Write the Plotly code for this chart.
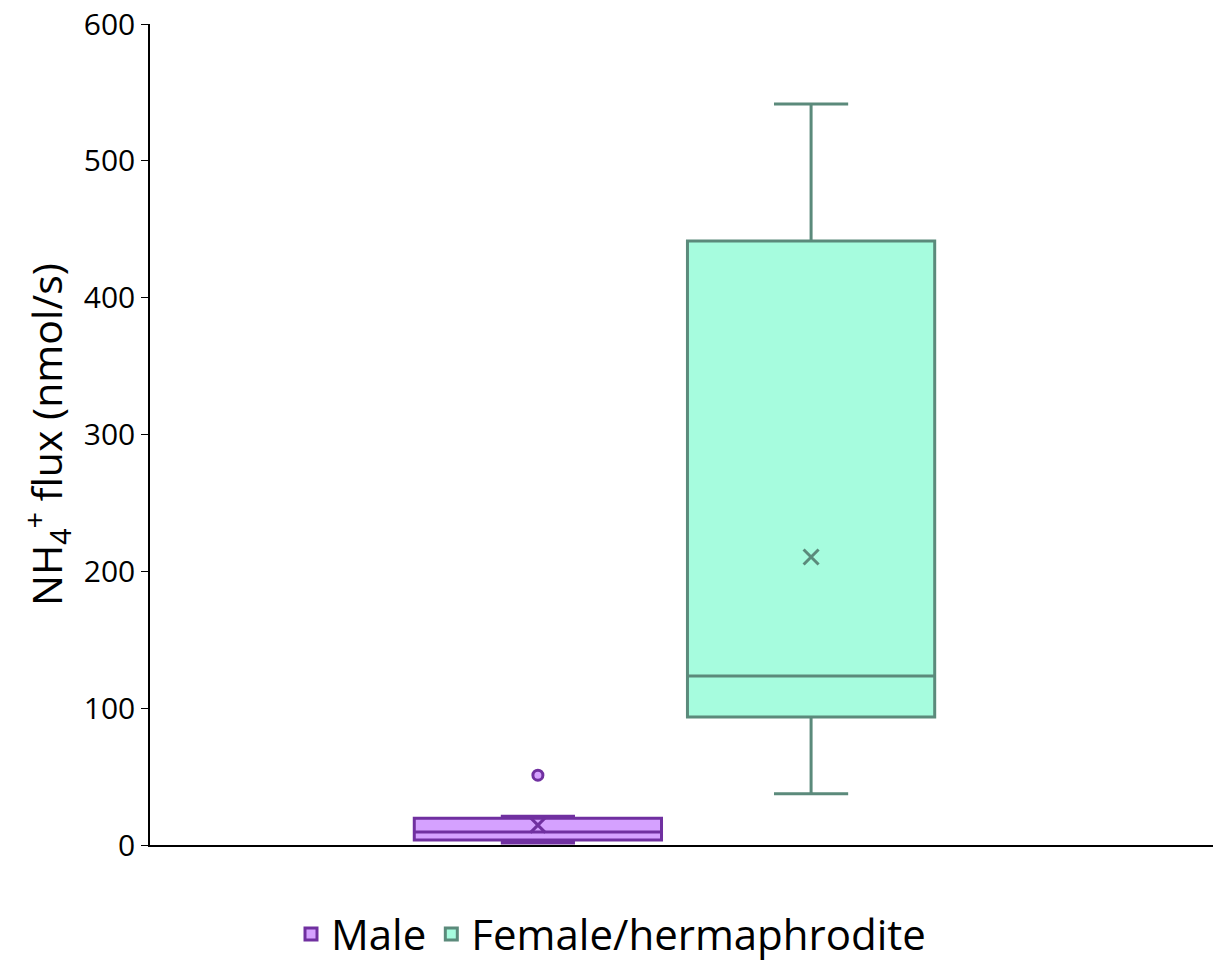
import plotly.graph_objects as go

category = ["All"]
groups = ["Male", "Female/hermaphrodite"]
q1 = [3.7, 93.5]
median = [9.5, 123.5]
q3 = [19.5, 441.5]
lower = [1.5, 37.5]
upper = [21.0, 541.5]
means = [14.5, 210.5]
male_outliers = [51.0]

fills = ["#D5A1FF", "#A6FCDE"]
lines = ["#7030A0", "#5B8A7B"]

BOXGAP = 0.486
FONT = "Open Sans"

fig = go.Figure()
for i, name in enumerate(groups):
    fig.add_trace(go.Box(
        name=name, x=category, q1=[q1[i]], median=[median[i]], q3=[q3[i]],
        lowerfence=[lower[i]], upperfence=[upper[i]],
        fillcolor=fills[i], line=dict(color=lines[i], width=3),
        whiskerwidth=0.3, boxpoints=False, offsetgroup=str(i),
        alignmentgroup="a", showlegend=True,
    ))

# mean markers, grouped like the boxes
fig.add_trace(go.Scatter(
    x=category, y=[means[0]], mode="markers", showlegend=False, hoverinfo="y",
    offsetgroup="0", alignmentgroup="a",
    marker=dict(symbol="x-thin-open", size=15, color=lines[0],
                line=dict(color=lines[0], width=3)),
))
fig.add_trace(go.Scatter(
    x=category, y=[means[1]], mode="markers", showlegend=False, hoverinfo="y",
    offsetgroup="1", alignmentgroup="a",
    marker=dict(symbol="x-thin-open", size=15, color=lines[1],
                line=dict(color=lines[1], width=3)),
))
# male outliers
fig.add_trace(go.Scatter(
    x=category * len(male_outliers), y=male_outliers, mode="markers",
    showlegend=False, hoverinfo="y", offsetgroup="0", alignmentgroup="a",
    marker=dict(symbol="circle", size=10, color=fills[0],
                line=dict(color=lines[0], width=3)),
))
# placeholder so the scatter groups stay two-wide
fig.add_trace(go.Scatter(
    x=category, y=[None], mode="markers", showlegend=False, hoverinfo="skip",
    offsetgroup="1", alignmentgroup="a",
))

fig.update_layout(
    width=1222, height=973,
    boxmode="group", boxgap=BOXGAP, boxgroupgap=0.095,
    scattermode="group", scattergap=BOXGAP,
    plot_bgcolor="white", paper_bgcolor="white",
    margin=dict(l=150, r=9, t=24, b=128),
    font=dict(family=FONT, color="black"),
    xaxis=dict(showticklabels=False, ticks="", showline=True, linecolor="black",
               linewidth=1.5, showgrid=False, zeroline=False, automargin=False,
               range=[-0.4934, 0.5066]),
    yaxis=dict(range=[0, 600], dtick=100, showline=True, linecolor="black",
               linewidth=1.5, ticks="outside", ticklen=7, tickcolor="black",
               showgrid=False, zeroline=False, tickfont=dict(size=30),
               automargin=False,
               title=dict(text="NH<sub>4</sub><sup>+</sup> flux (nmol/s)",
                          font=dict(size=41), standoff=8)),
    legend=dict(orientation="h", x=0.5, xanchor="center", xref="container",
                y=0.005, yanchor="bottom", yref="container",
                font=dict(size=42), itemwidth=30, tracegroupgap=0),
)

fig.write_html("out.html")
